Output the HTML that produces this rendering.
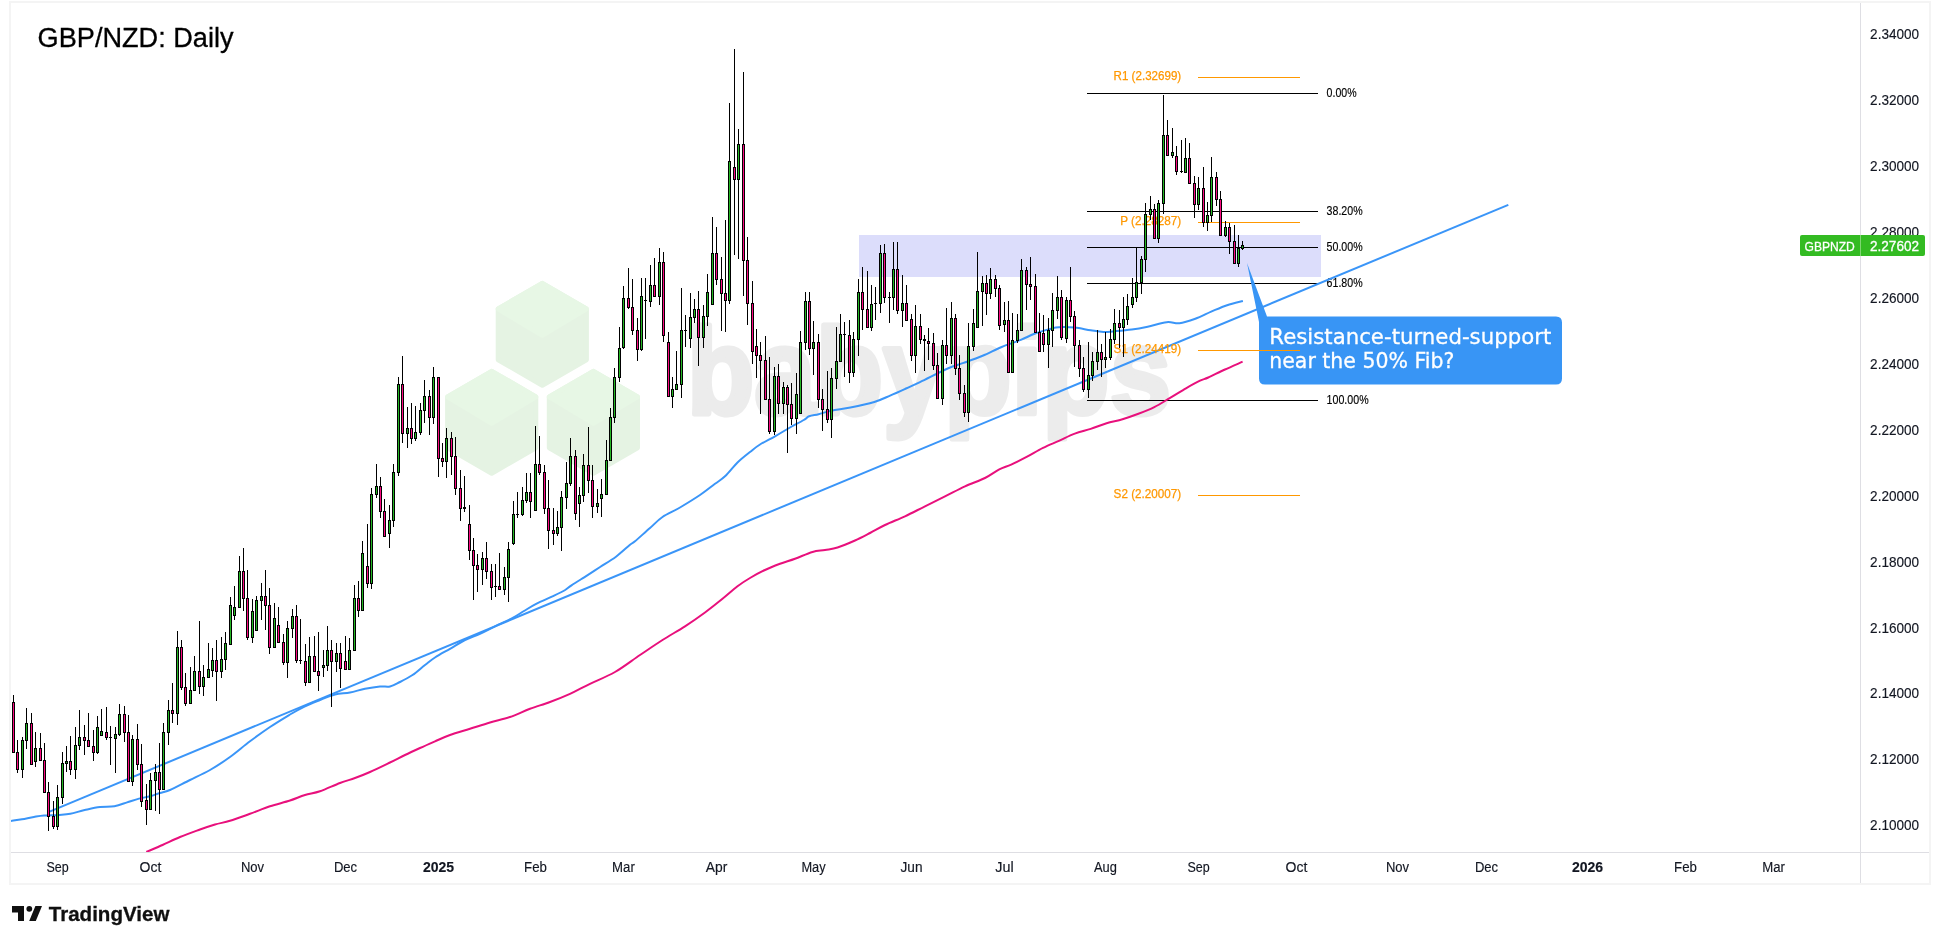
<!DOCTYPE html>
<html lang="en"><head><meta charset="utf-8"><title>GBP/NZD: Daily</title>
<style>html,body{margin:0;padding:0;background:#fff;}body{width:1940px;height:944px;overflow:hidden;}svg{display:block;}text{font-family:"Liberation Sans", sans-serif;}</style>
</head><body>
<svg width="1940" height="944" viewBox="0 0 1940 944" style="will-change:transform">
<rect x="0" y="0" width="1940" height="944" fill="#ffffff"/>
<g shape-rendering="crispEdges">
<rect x="10" y="2" width="1920" height="882" fill="none" stroke="#f4f4f4" stroke-width="2"/>
</g>
<g id="watermark">
<polygon points="542.3,283.3 586.4,308.9 586.4,359.8 542.3,385.3 498.2,359.8 498.2,308.9" fill="#e5f3e3" stroke="#e5f3e3" stroke-width="5" stroke-linejoin="round"/><polygon points="542.3,283.3 586.4,308.9 542.3,335.3 498.2,308.9" fill="#e7f7e5" stroke="#e7f7e5" stroke-width="5" stroke-linejoin="round"/>
<polygon points="491.7,371.3 535.8,396.9 535.8,447.8 491.7,473.3 447.6,447.8 447.6,396.9" fill="#e5f3e3" stroke="#e5f3e3" stroke-width="5" stroke-linejoin="round"/><polygon points="491.7,371.3 535.8,396.9 491.7,423.3 447.6,396.9" fill="#e7f7e5" stroke="#e7f7e5" stroke-width="5" stroke-linejoin="round"/>
<polygon points="593.4,371.3 637.5,396.9 637.5,447.8 593.4,473.3 549.3,447.8 549.3,396.9" fill="#e5f3e3" stroke="#e5f3e3" stroke-width="5" stroke-linejoin="round"/><polygon points="593.4,371.3 637.5,396.9 593.4,423.3 549.3,396.9" fill="#e7f7e5" stroke="#e7f7e5" stroke-width="5" stroke-linejoin="round"/>
<text x="687" y="413.5" font-size="122" font-weight="bold" fill="#ececec" stroke="#ececec" stroke-width="5" stroke-linejoin="round" textLength="484" lengthAdjust="spacingAndGlyphs">babypips</text>
</g>
<rect x="859" y="235" width="462" height="42" fill="#dcddfb" shape-rendering="crispEdges"/>
<clipPath id="cp"><rect x="11" y="3" width="1849" height="849"/></clipPath>
<g clip-path="url(#cp)">
<g shape-rendering="crispEdges" fill="#000">
<rect x="1087" y="93" width="231" height="1"/>
<rect x="1087" y="211" width="231" height="1"/>
<rect x="1087" y="247" width="231" height="1"/>
<rect x="1087" y="283" width="231" height="1"/>
<rect x="1087" y="400" width="231" height="1"/>
</g>
<text x="1326.6" y="97.0" font-size="12.3" fill="#000" stroke="#000" stroke-width="0.15" textLength="30" lengthAdjust="spacingAndGlyphs">0.00%</text>
<text x="1326.6" y="215.0" font-size="12.3" fill="#000" stroke="#000" stroke-width="0.15" textLength="36" lengthAdjust="spacingAndGlyphs">38.20%</text>
<text x="1326.6" y="251.0" font-size="12.3" fill="#000" stroke="#000" stroke-width="0.15" textLength="36" lengthAdjust="spacingAndGlyphs">50.00%</text>
<text x="1326.6" y="287.0" font-size="12.3" fill="#000" stroke="#000" stroke-width="0.15" textLength="36" lengthAdjust="spacingAndGlyphs">61.80%</text>
<text x="1326.6" y="404.0" font-size="12.3" fill="#000" stroke="#000" stroke-width="0.15" textLength="42" lengthAdjust="spacingAndGlyphs">100.00%</text>
<path d="M49.0,811.8 L1508.3,204.8" fill="none" stroke="#3a95f8" stroke-width="2" stroke-linejoin="round" stroke-linecap="butt"/>
<path d="M10.6,821.0 C12.5,820.7 18.1,820.0 22.0,819.3 C25.9,818.6 30.2,817.5 33.9,816.9 C37.6,816.3 39.9,815.8 44.1,815.5 C48.3,815.2 54.9,815.2 59.3,814.9 C63.7,814.6 66.1,814.6 70.3,813.8 C74.5,813.0 79.8,811.1 84.7,810.0 C89.7,808.9 95.0,807.6 100.0,807.0 C105.0,806.4 109.9,807.0 114.4,806.2 C118.9,805.4 123.0,803.7 127.1,802.4 C131.2,801.1 135.2,799.6 139.0,798.6 C142.8,797.6 146.5,797.2 150.0,796.3 C153.5,795.4 156.7,794.0 160.0,793.0 C163.3,792.0 165.0,792.2 170.0,790.0 C175.0,787.8 183.3,783.3 190.0,780.0 C196.7,776.7 203.3,773.8 210.0,770.0 C216.7,766.2 223.3,761.8 230.0,757.0 C236.7,752.2 243.3,746.3 250.0,741.3 C256.7,736.3 263.3,731.5 270.0,727.0 C276.7,722.5 284.2,718.0 290.0,714.5 C295.8,711.0 300.0,708.7 305.0,706.3 C310.0,703.9 315.0,702.0 320.0,700.0 C325.0,698.0 330.0,695.8 335.0,694.5 C340.0,693.2 345.0,693.5 350.0,692.5 C355.0,691.5 360.0,689.8 365.0,688.8 C370.0,687.8 375.8,686.9 380.0,686.5 C384.2,686.1 386.7,687.2 390.0,686.5 C393.3,685.8 396.2,683.9 400.0,682.0 C403.8,680.1 408.3,677.8 412.5,675.0 C416.7,672.2 421.2,667.9 425.0,665.0 C428.8,662.1 430.8,660.2 435.0,657.5 C439.2,654.8 445.0,651.7 450.0,648.8 C455.0,645.9 460.0,642.5 465.0,640.0 C470.0,637.5 475.0,636.1 480.0,633.8 C485.0,631.5 489.6,628.9 495.0,626.3 C500.4,623.6 507.9,620.4 512.7,617.9 C517.5,615.4 520.0,613.4 524.0,611.0 C528.0,608.6 531.9,606.0 536.6,603.6 C541.4,601.2 547.7,598.7 552.5,596.4 C557.3,594.1 562.0,591.9 565.2,590.0 C568.4,588.1 568.3,587.4 571.5,585.3 C574.7,583.2 579.4,580.3 584.2,577.3 C589.0,574.2 594.8,570.4 600.1,567.0 C605.4,563.6 611.0,560.4 616.0,556.7 C621.0,553.0 626.8,547.4 630.0,544.8 C633.2,542.2 631.7,544.1 635.0,541.3 C638.3,538.5 645.4,532.0 650.0,528.0 C654.6,524.0 657.5,520.4 662.5,517.0 C667.5,513.6 673.8,511.2 680.0,507.5 C686.2,503.8 694.2,498.9 700.0,495.0 C705.8,491.1 710.8,486.9 715.0,483.8 C719.2,480.7 721.2,479.9 725.0,476.3 C728.8,472.8 733.3,466.6 737.5,462.5 C741.7,458.4 746.2,455.0 750.0,452.0 C753.8,449.0 755.8,447.1 760.0,444.5 C764.2,441.9 770.0,439.1 775.0,436.3 C780.0,433.5 785.2,430.2 790.0,427.5 C794.8,424.8 800.6,421.9 803.8,420.0 C807.0,418.1 806.6,417.3 809.1,416.3 C811.6,415.3 814.9,415.1 818.6,414.2 C822.3,413.3 826.0,411.8 831.3,410.7 C836.6,409.6 843.2,408.9 850.4,407.5 C857.6,406.1 867.7,404.0 874.3,402.0 C880.9,400.0 884.8,397.9 890.1,395.6 C895.4,393.4 901.0,390.8 906.0,388.5 C911.0,386.2 913.0,385.4 920.0,382.1 C927.0,378.8 940.4,371.7 947.7,368.5 C955.0,365.3 957.8,365.0 963.6,362.9 C969.4,360.8 976.2,358.4 982.6,355.8 C989.0,353.2 995.3,349.6 1001.7,347.0 C1008.1,344.4 1015.2,342.1 1020.8,339.9 C1026.4,337.6 1030.1,335.4 1035.1,333.5 C1040.1,331.6 1047.0,329.8 1051.0,328.7 C1055.0,327.6 1054.9,327.4 1058.9,327.2 C1062.9,327.0 1069.5,327.1 1074.8,327.6 C1080.1,328.1 1085.9,329.6 1090.7,330.3 C1095.5,331.0 1099.2,331.8 1103.4,331.9 C1107.6,332.0 1111.2,331.5 1115.9,331.1 C1120.6,330.7 1126.5,330.2 1131.8,329.5 C1137.1,328.8 1141.9,327.9 1147.7,326.7 C1153.5,325.5 1161.4,322.8 1166.7,322.2 C1172.0,321.6 1174.7,323.8 1179.5,323.2 C1184.3,322.6 1190.0,320.6 1195.3,318.7 C1200.6,316.8 1205.9,313.9 1211.2,311.6 C1216.5,309.4 1221.8,307.0 1227.1,305.2 C1232.4,303.4 1240.3,301.7 1242.9,301.0" fill="none" stroke="#3a95f8" stroke-width="2" stroke-linejoin="round" stroke-linecap="butt"/>
<path d="M146.3,852.0 C149.0,850.8 156.9,847.5 162.5,845.0 C168.1,842.5 173.8,839.6 180.0,837.0 C186.2,834.4 194.2,831.6 200.0,829.5 C205.8,827.4 210.0,826.0 215.0,824.5 C220.0,823.0 224.2,822.6 230.0,820.8 C235.8,819.0 243.3,816.2 250.0,813.8 C256.7,811.4 263.3,808.5 270.0,806.3 C276.7,804.1 284.2,802.4 290.0,800.5 C295.8,798.6 300.0,796.5 305.0,795.0 C310.0,793.5 314.2,793.3 320.0,791.3 C325.8,789.3 334.2,785.2 340.0,783.0 C345.8,780.8 350.0,779.8 355.0,778.0 C360.0,776.2 364.2,774.6 370.0,772.0 C375.8,769.4 384.2,765.3 390.0,762.5 C395.8,759.7 400.0,757.4 405.0,755.0 C410.0,752.6 415.0,750.3 420.0,748.0 C425.0,745.7 430.0,743.5 435.0,741.3 C440.0,739.1 444.2,737.1 450.0,735.0 C455.8,732.9 463.3,730.9 470.0,728.8 C476.7,726.7 483.3,724.5 490.0,722.5 C496.7,720.5 503.3,719.3 510.0,717.0 C516.7,714.7 523.3,711.3 530.0,708.8 C536.7,706.3 543.3,704.5 550.0,702.0 C556.7,699.5 563.3,696.8 570.0,693.8 C576.7,690.8 582.5,687.4 590.0,683.8 C597.5,680.2 606.7,676.8 615.0,672.0 C623.3,667.2 632.1,660.3 640.0,655.0 C647.9,649.7 655.0,644.8 662.5,640.0 C670.0,635.2 677.9,630.9 685.0,626.3 C692.1,621.7 698.8,617.1 705.0,612.5 C711.2,607.9 717.1,603.2 722.5,598.8 C727.9,594.4 732.9,589.8 737.5,586.3 C742.1,582.8 745.4,580.7 750.0,578.0 C754.6,575.3 760.0,572.4 765.0,570.0 C770.0,567.6 775.0,565.7 780.0,563.8 C785.0,561.9 789.6,560.8 795.0,558.8 C800.4,556.8 807.5,553.5 812.5,552.0 C817.5,550.5 820.8,550.8 825.0,550.0 C829.2,549.2 832.5,549.1 837.5,547.5 C842.5,545.9 849.6,542.9 855.0,540.5 C860.4,538.1 865.0,535.6 870.0,533.0 C875.0,530.4 879.2,527.8 885.0,525.0 C890.8,522.2 898.3,519.4 905.0,516.3 C911.7,513.2 918.3,509.6 925.0,506.3 C931.7,503.0 938.3,499.6 945.0,496.3 C951.7,493.0 958.3,489.4 965.0,486.3 C971.7,483.2 979.3,480.8 985.0,478.0 C990.7,475.2 994.9,471.6 999.3,469.4 C1003.7,467.2 1006.6,466.7 1011.2,464.6 C1015.8,462.5 1021.8,459.5 1027.1,456.7 C1032.4,453.9 1037.7,450.5 1043.0,447.9 C1048.3,445.2 1053.6,443.2 1058.9,440.8 C1064.2,438.4 1069.5,435.6 1074.8,433.6 C1080.1,431.6 1085.4,430.6 1090.7,428.9 C1096.0,427.2 1101.3,424.9 1106.6,423.3 C1111.9,421.7 1117.2,420.9 1122.5,419.3 C1127.8,417.7 1133.1,415.8 1138.4,413.8 C1143.7,411.8 1149.0,409.8 1154.3,407.1 C1159.6,404.5 1164.8,401.0 1170.1,397.9 C1175.4,394.8 1181.0,391.2 1186.0,388.3 C1191.0,385.4 1196.3,382.5 1200.0,380.7 C1203.7,378.9 1204.1,379.4 1208.3,377.5 C1212.5,375.6 1219.3,372.1 1225.0,369.5 C1230.7,366.9 1239.7,363.0 1242.6,361.7" fill="none" stroke="#e8107c" stroke-width="2" stroke-linejoin="round" stroke-linecap="butt"/>
<path d="M1247,263 L1267,316.5 L1556,316.5 Q1562,316.5 1562,322.5 L1562,378.5 Q1562,384.5 1556,384.5 L1265,384.5 Q1259,384.5 1259,378.5 L1259,322 Z" fill="#3895f5"/>
<text stroke="#fff" stroke-width="0.3" x="1269.3" y="344.3" font-size="22" fill="#fff" textLength="282" lengthAdjust="spacingAndGlyphs" style='font-family:"DejaVu Sans", "Liberation Sans", sans-serif'>Resistance-turned-support</text>
<text stroke="#fff" stroke-width="0.3" x="1269.3" y="368.3" font-size="22" fill="#fff" textLength="185" lengthAdjust="spacingAndGlyphs" style='font-family:"DejaVu Sans", "Liberation Sans", sans-serif'>near the 50% Fib?</text>
<g shape-rendering="crispEdges" fill="#ff9800">
<rect x="1198" y="77" width="102" height="1"/>
<rect x="1198" y="222" width="102" height="1"/>
<rect x="1198" y="350" width="102" height="1"/>
<rect x="1198" y="495" width="102" height="1"/>
</g>
<text x="1113.6" y="80.0" font-size="12.4" fill="#ff9800" stroke="#ff9800" stroke-width="0.25" textLength="67.6" lengthAdjust="spacingAndGlyphs">R1 (2.32699)</text>
<text x="1120.2" y="225.0" font-size="12.4" fill="#ff9800" stroke="#ff9800" stroke-width="0.25" textLength="61" lengthAdjust="spacingAndGlyphs">P (2.28287)</text>
<text x="1113.6" y="353.0" font-size="12.4" fill="#ff9800" stroke="#ff9800" stroke-width="0.25" textLength="67.6" lengthAdjust="spacingAndGlyphs">S1 (2.24419)</text>
<text x="1113.6" y="498.0" font-size="12.4" fill="#ff9800" stroke="#ff9800" stroke-width="0.25" textLength="67.6" lengthAdjust="spacingAndGlyphs">S2 (2.20007)</text>
<g shape-rendering="crispEdges">
<rect x="13" y="695" width="1" height="58" fill="#000"/>
<rect x="12" y="702" width="3" height="51" fill="#000"/>
<rect x="13" y="703" width="1" height="49" fill="#fb0a82"/>
<rect x="17" y="740" width="1" height="33" fill="#000"/>
<rect x="16" y="752" width="3" height="18" fill="#000"/>
<rect x="17" y="753" width="1" height="16" fill="#fb0a82"/>
<rect x="22" y="737" width="1" height="41" fill="#000"/>
<rect x="21" y="740" width="3" height="30" fill="#000"/>
<rect x="22" y="741" width="1" height="28" fill="#24b724"/>
<rect x="26" y="708" width="1" height="41" fill="#000"/>
<rect x="25" y="723" width="3" height="18" fill="#000"/>
<rect x="26" y="724" width="1" height="16" fill="#24b724"/>
<rect x="31" y="713" width="1" height="52" fill="#000"/>
<rect x="30" y="723" width="3" height="42" fill="#000"/>
<rect x="31" y="724" width="1" height="40" fill="#fb0a82"/>
<rect x="35" y="732" width="1" height="35" fill="#000"/>
<rect x="34" y="748" width="3" height="14" fill="#000"/>
<rect x="35" y="749" width="1" height="12" fill="#24b724"/>
<rect x="40" y="733" width="1" height="28" fill="#000"/>
<rect x="39" y="748" width="3" height="13" fill="#000"/>
<rect x="40" y="749" width="1" height="11" fill="#fb0a82"/>
<rect x="44" y="743" width="1" height="50" fill="#000"/>
<rect x="43" y="760" width="3" height="33" fill="#000"/>
<rect x="44" y="761" width="1" height="31" fill="#fb0a82"/>
<rect x="48" y="782" width="1" height="49" fill="#000"/>
<rect x="47" y="792" width="3" height="25" fill="#000"/>
<rect x="48" y="793" width="1" height="23" fill="#fb0a82"/>
<rect x="53" y="801" width="1" height="28" fill="#000"/>
<rect x="52" y="816" width="3" height="11" fill="#000"/>
<rect x="53" y="817" width="1" height="9" fill="#fb0a82"/>
<rect x="57" y="785" width="1" height="45" fill="#000"/>
<rect x="56" y="797" width="3" height="30" fill="#000"/>
<rect x="57" y="798" width="1" height="28" fill="#24b724"/>
<rect x="62" y="752" width="1" height="52" fill="#000"/>
<rect x="61" y="763" width="3" height="35" fill="#000"/>
<rect x="62" y="764" width="1" height="33" fill="#24b724"/>
<rect x="66" y="746" width="1" height="26" fill="#000"/>
<rect x="65" y="761" width="3" height="3" fill="#000"/>
<rect x="66" y="762" width="1" height="1" fill="#24b724"/>
<rect x="70" y="736" width="1" height="39" fill="#000"/>
<rect x="69" y="761" width="3" height="9" fill="#000"/>
<rect x="70" y="762" width="1" height="7" fill="#fb0a82"/>
<rect x="75" y="727" width="1" height="52" fill="#000"/>
<rect x="74" y="745" width="3" height="25" fill="#000"/>
<rect x="75" y="746" width="1" height="23" fill="#24b724"/>
<rect x="79" y="710" width="1" height="40" fill="#000"/>
<rect x="78" y="737" width="3" height="9" fill="#000"/>
<rect x="79" y="738" width="1" height="7" fill="#24b724"/>
<rect x="84" y="725" width="1" height="30" fill="#000"/>
<rect x="83" y="737" width="3" height="4" fill="#000"/>
<rect x="84" y="738" width="1" height="2" fill="#fb0a82"/>
<rect x="88" y="713" width="1" height="34" fill="#000"/>
<rect x="87" y="740" width="3" height="7" fill="#000"/>
<rect x="88" y="741" width="1" height="5" fill="#fb0a82"/>
<rect x="93" y="730" width="1" height="31" fill="#000"/>
<rect x="92" y="746" width="3" height="7" fill="#000"/>
<rect x="93" y="747" width="1" height="5" fill="#fb0a82"/>
<rect x="97" y="716" width="1" height="38" fill="#000"/>
<rect x="96" y="727" width="3" height="26" fill="#000"/>
<rect x="97" y="728" width="1" height="24" fill="#24b724"/>
<rect x="101" y="709" width="1" height="27" fill="#000"/>
<rect x="100" y="731" width="3" height="5" fill="#000"/>
<rect x="101" y="732" width="1" height="3" fill="#24b724"/>
<rect x="106" y="707" width="1" height="33" fill="#000"/>
<rect x="105" y="732" width="3" height="6" fill="#000"/>
<rect x="106" y="733" width="1" height="4" fill="#fb0a82"/>
<rect x="110" y="726" width="1" height="39" fill="#000"/>
<rect x="109" y="737" width="3" height="1" fill="#000"/>
<rect x="115" y="727" width="1" height="46" fill="#000"/>
<rect x="114" y="734" width="3" height="5" fill="#000"/>
<rect x="115" y="735" width="1" height="3" fill="#24b724"/>
<rect x="119" y="704" width="1" height="32" fill="#000"/>
<rect x="118" y="714" width="3" height="21" fill="#000"/>
<rect x="119" y="715" width="1" height="19" fill="#24b724"/>
<rect x="124" y="706" width="1" height="36" fill="#000"/>
<rect x="123" y="714" width="3" height="19" fill="#000"/>
<rect x="124" y="715" width="1" height="17" fill="#fb0a82"/>
<rect x="128" y="715" width="1" height="67" fill="#000"/>
<rect x="127" y="732" width="3" height="50" fill="#000"/>
<rect x="128" y="733" width="1" height="48" fill="#fb0a82"/>
<rect x="132" y="735" width="1" height="51" fill="#000"/>
<rect x="131" y="739" width="3" height="43" fill="#000"/>
<rect x="132" y="740" width="1" height="41" fill="#24b724"/>
<rect x="137" y="724" width="1" height="46" fill="#000"/>
<rect x="136" y="739" width="3" height="26" fill="#000"/>
<rect x="137" y="740" width="1" height="24" fill="#fb0a82"/>
<rect x="141" y="744" width="1" height="63" fill="#000"/>
<rect x="140" y="764" width="3" height="38" fill="#000"/>
<rect x="141" y="765" width="1" height="36" fill="#fb0a82"/>
<rect x="146" y="784" width="1" height="41" fill="#000"/>
<rect x="145" y="800" width="3" height="10" fill="#000"/>
<rect x="146" y="801" width="1" height="8" fill="#fb0a82"/>
<rect x="150" y="773" width="1" height="37" fill="#000"/>
<rect x="149" y="780" width="3" height="30" fill="#000"/>
<rect x="150" y="781" width="1" height="28" fill="#24b724"/>
<rect x="155" y="764" width="1" height="47" fill="#000"/>
<rect x="154" y="772" width="3" height="9" fill="#000"/>
<rect x="155" y="773" width="1" height="7" fill="#24b724"/>
<rect x="159" y="743" width="1" height="71" fill="#000"/>
<rect x="158" y="772" width="3" height="18" fill="#000"/>
<rect x="159" y="773" width="1" height="16" fill="#fb0a82"/>
<rect x="163" y="723" width="1" height="67" fill="#000"/>
<rect x="162" y="732" width="3" height="58" fill="#000"/>
<rect x="163" y="733" width="1" height="56" fill="#24b724"/>
<rect x="168" y="700" width="1" height="45" fill="#000"/>
<rect x="167" y="710" width="3" height="23" fill="#000"/>
<rect x="168" y="711" width="1" height="21" fill="#24b724"/>
<rect x="172" y="683" width="1" height="40" fill="#000"/>
<rect x="171" y="710" width="3" height="4" fill="#000"/>
<rect x="172" y="711" width="1" height="2" fill="#fb0a82"/>
<rect x="177" y="631" width="1" height="94" fill="#000"/>
<rect x="176" y="647" width="3" height="67" fill="#000"/>
<rect x="177" y="648" width="1" height="65" fill="#24b724"/>
<rect x="181" y="640" width="1" height="50" fill="#000"/>
<rect x="180" y="647" width="3" height="41" fill="#000"/>
<rect x="181" y="648" width="1" height="39" fill="#fb0a82"/>
<rect x="185" y="673" width="1" height="33" fill="#000"/>
<rect x="184" y="687" width="3" height="17" fill="#000"/>
<rect x="185" y="688" width="1" height="15" fill="#fb0a82"/>
<rect x="190" y="667" width="1" height="37" fill="#000"/>
<rect x="189" y="690" width="3" height="14" fill="#000"/>
<rect x="190" y="691" width="1" height="12" fill="#24b724"/>
<rect x="194" y="656" width="1" height="35" fill="#000"/>
<rect x="193" y="671" width="3" height="20" fill="#000"/>
<rect x="194" y="672" width="1" height="18" fill="#24b724"/>
<rect x="199" y="621" width="1" height="73" fill="#000"/>
<rect x="198" y="671" width="3" height="16" fill="#000"/>
<rect x="199" y="672" width="1" height="14" fill="#fb0a82"/>
<rect x="203" y="665" width="1" height="31" fill="#000"/>
<rect x="202" y="677" width="3" height="10" fill="#000"/>
<rect x="203" y="678" width="1" height="8" fill="#24b724"/>
<rect x="208" y="643" width="1" height="35" fill="#000"/>
<rect x="207" y="669" width="3" height="9" fill="#000"/>
<rect x="208" y="670" width="1" height="7" fill="#24b724"/>
<rect x="212" y="648" width="1" height="29" fill="#000"/>
<rect x="211" y="660" width="3" height="11" fill="#000"/>
<rect x="212" y="661" width="1" height="9" fill="#24b724"/>
<rect x="216" y="640" width="1" height="61" fill="#000"/>
<rect x="215" y="660" width="3" height="12" fill="#000"/>
<rect x="216" y="661" width="1" height="10" fill="#fb0a82"/>
<rect x="221" y="637" width="1" height="41" fill="#000"/>
<rect x="220" y="659" width="3" height="13" fill="#000"/>
<rect x="221" y="660" width="1" height="11" fill="#24b724"/>
<rect x="225" y="632" width="1" height="38" fill="#000"/>
<rect x="224" y="643" width="3" height="17" fill="#000"/>
<rect x="225" y="644" width="1" height="15" fill="#24b724"/>
<rect x="230" y="597" width="1" height="48" fill="#000"/>
<rect x="229" y="605" width="3" height="40" fill="#000"/>
<rect x="230" y="606" width="1" height="38" fill="#24b724"/>
<rect x="234" y="586" width="1" height="34" fill="#000"/>
<rect x="233" y="607" width="3" height="9" fill="#000"/>
<rect x="234" y="608" width="1" height="7" fill="#24b724"/>
<rect x="239" y="556" width="1" height="52" fill="#000"/>
<rect x="238" y="571" width="3" height="37" fill="#000"/>
<rect x="239" y="572" width="1" height="35" fill="#24b724"/>
<rect x="243" y="548" width="1" height="63" fill="#000"/>
<rect x="242" y="571" width="3" height="28" fill="#000"/>
<rect x="243" y="572" width="1" height="26" fill="#fb0a82"/>
<rect x="247" y="570" width="1" height="70" fill="#000"/>
<rect x="246" y="598" width="3" height="40" fill="#000"/>
<rect x="247" y="599" width="1" height="38" fill="#fb0a82"/>
<rect x="252" y="599" width="1" height="44" fill="#000"/>
<rect x="251" y="611" width="3" height="27" fill="#000"/>
<rect x="252" y="612" width="1" height="25" fill="#24b724"/>
<rect x="256" y="596" width="1" height="35" fill="#000"/>
<rect x="255" y="600" width="3" height="31" fill="#000"/>
<rect x="256" y="601" width="1" height="29" fill="#24b724"/>
<rect x="261" y="583" width="1" height="37" fill="#000"/>
<rect x="260" y="596" width="3" height="5" fill="#000"/>
<rect x="261" y="597" width="1" height="3" fill="#24b724"/>
<rect x="265" y="570" width="1" height="60" fill="#000"/>
<rect x="264" y="596" width="3" height="10" fill="#000"/>
<rect x="265" y="597" width="1" height="8" fill="#fb0a82"/>
<rect x="269" y="588" width="1" height="66" fill="#000"/>
<rect x="268" y="605" width="3" height="43" fill="#000"/>
<rect x="269" y="606" width="1" height="41" fill="#fb0a82"/>
<rect x="274" y="603" width="1" height="45" fill="#000"/>
<rect x="273" y="618" width="3" height="30" fill="#000"/>
<rect x="274" y="619" width="1" height="28" fill="#24b724"/>
<rect x="278" y="607" width="1" height="36" fill="#000"/>
<rect x="277" y="625" width="3" height="18" fill="#000"/>
<rect x="278" y="626" width="1" height="16" fill="#fb0a82"/>
<rect x="283" y="634" width="1" height="31" fill="#000"/>
<rect x="282" y="642" width="3" height="21" fill="#000"/>
<rect x="283" y="643" width="1" height="19" fill="#fb0a82"/>
<rect x="287" y="621" width="1" height="57" fill="#000"/>
<rect x="286" y="628" width="3" height="35" fill="#000"/>
<rect x="287" y="629" width="1" height="33" fill="#24b724"/>
<rect x="292" y="609" width="1" height="29" fill="#000"/>
<rect x="291" y="616" width="3" height="13" fill="#000"/>
<rect x="292" y="617" width="1" height="11" fill="#24b724"/>
<rect x="296" y="605" width="1" height="58" fill="#000"/>
<rect x="295" y="616" width="3" height="45" fill="#000"/>
<rect x="296" y="617" width="1" height="43" fill="#fb0a82"/>
<rect x="300" y="619" width="1" height="45" fill="#000"/>
<rect x="299" y="660" width="3" height="1" fill="#000"/>
<rect x="305" y="644" width="1" height="42" fill="#000"/>
<rect x="304" y="661" width="3" height="22" fill="#000"/>
<rect x="305" y="662" width="1" height="20" fill="#fb0a82"/>
<rect x="309" y="637" width="1" height="46" fill="#000"/>
<rect x="308" y="656" width="3" height="27" fill="#000"/>
<rect x="309" y="657" width="1" height="25" fill="#24b724"/>
<rect x="314" y="636" width="1" height="36" fill="#000"/>
<rect x="313" y="656" width="3" height="16" fill="#000"/>
<rect x="314" y="657" width="1" height="14" fill="#fb0a82"/>
<rect x="318" y="632" width="1" height="59" fill="#000"/>
<rect x="317" y="671" width="3" height="5" fill="#000"/>
<rect x="318" y="672" width="1" height="3" fill="#fb0a82"/>
<rect x="323" y="650" width="1" height="27" fill="#000"/>
<rect x="322" y="665" width="3" height="3" fill="#000"/>
<rect x="323" y="666" width="1" height="1" fill="#24b724"/>
<rect x="327" y="626" width="1" height="45" fill="#000"/>
<rect x="326" y="650" width="3" height="16" fill="#000"/>
<rect x="327" y="651" width="1" height="14" fill="#24b724"/>
<rect x="331" y="640" width="1" height="67" fill="#000"/>
<rect x="330" y="650" width="3" height="12" fill="#000"/>
<rect x="331" y="651" width="1" height="10" fill="#fb0a82"/>
<rect x="336" y="643" width="1" height="29" fill="#000"/>
<rect x="335" y="653" width="3" height="9" fill="#000"/>
<rect x="336" y="654" width="1" height="7" fill="#24b724"/>
<rect x="340" y="643" width="1" height="45" fill="#000"/>
<rect x="339" y="653" width="3" height="16" fill="#000"/>
<rect x="340" y="654" width="1" height="14" fill="#fb0a82"/>
<rect x="345" y="636" width="1" height="34" fill="#000"/>
<rect x="344" y="661" width="3" height="9" fill="#000"/>
<rect x="345" y="662" width="1" height="7" fill="#fb0a82"/>
<rect x="349" y="638" width="1" height="32" fill="#000"/>
<rect x="348" y="650" width="3" height="20" fill="#000"/>
<rect x="349" y="651" width="1" height="18" fill="#24b724"/>
<rect x="354" y="585" width="1" height="66" fill="#000"/>
<rect x="353" y="598" width="3" height="53" fill="#000"/>
<rect x="354" y="599" width="1" height="51" fill="#24b724"/>
<rect x="358" y="581" width="1" height="36" fill="#000"/>
<rect x="357" y="598" width="3" height="13" fill="#000"/>
<rect x="358" y="599" width="1" height="11" fill="#fb0a82"/>
<rect x="362" y="541" width="1" height="70" fill="#000"/>
<rect x="361" y="553" width="3" height="58" fill="#000"/>
<rect x="362" y="554" width="1" height="56" fill="#24b724"/>
<rect x="367" y="524" width="1" height="64" fill="#000"/>
<rect x="366" y="566" width="3" height="18" fill="#000"/>
<rect x="367" y="567" width="1" height="16" fill="#fb0a82"/>
<rect x="371" y="488" width="1" height="101" fill="#000"/>
<rect x="370" y="494" width="3" height="90" fill="#000"/>
<rect x="371" y="495" width="1" height="88" fill="#24b724"/>
<rect x="376" y="464" width="1" height="34" fill="#000"/>
<rect x="375" y="486" width="3" height="9" fill="#000"/>
<rect x="376" y="487" width="1" height="7" fill="#24b724"/>
<rect x="380" y="477" width="1" height="41" fill="#000"/>
<rect x="379" y="486" width="3" height="26" fill="#000"/>
<rect x="380" y="487" width="1" height="24" fill="#fb0a82"/>
<rect x="384" y="499" width="1" height="38" fill="#000"/>
<rect x="383" y="511" width="3" height="26" fill="#000"/>
<rect x="384" y="512" width="1" height="24" fill="#fb0a82"/>
<rect x="389" y="505" width="1" height="43" fill="#000"/>
<rect x="388" y="520" width="3" height="14" fill="#000"/>
<rect x="389" y="521" width="1" height="12" fill="#24b724"/>
<rect x="393" y="464" width="1" height="63" fill="#000"/>
<rect x="392" y="472" width="3" height="49" fill="#000"/>
<rect x="393" y="473" width="1" height="47" fill="#24b724"/>
<rect x="398" y="377" width="1" height="99" fill="#000"/>
<rect x="397" y="384" width="3" height="89" fill="#000"/>
<rect x="398" y="385" width="1" height="87" fill="#24b724"/>
<rect x="402" y="356" width="1" height="87" fill="#000"/>
<rect x="401" y="384" width="3" height="50" fill="#000"/>
<rect x="402" y="385" width="1" height="48" fill="#fb0a82"/>
<rect x="407" y="407" width="1" height="41" fill="#000"/>
<rect x="406" y="428" width="3" height="6" fill="#000"/>
<rect x="407" y="429" width="1" height="4" fill="#24b724"/>
<rect x="411" y="403" width="1" height="41" fill="#000"/>
<rect x="410" y="428" width="3" height="11" fill="#000"/>
<rect x="411" y="429" width="1" height="9" fill="#fb0a82"/>
<rect x="415" y="406" width="1" height="35" fill="#000"/>
<rect x="414" y="432" width="3" height="7" fill="#000"/>
<rect x="415" y="433" width="1" height="5" fill="#24b724"/>
<rect x="420" y="403" width="1" height="32" fill="#000"/>
<rect x="419" y="410" width="3" height="23" fill="#000"/>
<rect x="420" y="411" width="1" height="21" fill="#24b724"/>
<rect x="424" y="380" width="1" height="43" fill="#000"/>
<rect x="423" y="396" width="3" height="15" fill="#000"/>
<rect x="424" y="397" width="1" height="13" fill="#24b724"/>
<rect x="429" y="390" width="1" height="45" fill="#000"/>
<rect x="428" y="396" width="3" height="22" fill="#000"/>
<rect x="429" y="397" width="1" height="20" fill="#fb0a82"/>
<rect x="433" y="367" width="1" height="57" fill="#000"/>
<rect x="432" y="377" width="3" height="41" fill="#000"/>
<rect x="433" y="378" width="1" height="39" fill="#24b724"/>
<rect x="438" y="377" width="1" height="100" fill="#000"/>
<rect x="437" y="377" width="3" height="82" fill="#000"/>
<rect x="438" y="378" width="1" height="80" fill="#fb0a82"/>
<rect x="442" y="443" width="1" height="24" fill="#000"/>
<rect x="441" y="458" width="3" height="4" fill="#000"/>
<rect x="442" y="459" width="1" height="2" fill="#fb0a82"/>
<rect x="446" y="428" width="1" height="50" fill="#000"/>
<rect x="445" y="438" width="3" height="24" fill="#000"/>
<rect x="446" y="439" width="1" height="22" fill="#24b724"/>
<rect x="451" y="432" width="1" height="43" fill="#000"/>
<rect x="450" y="438" width="3" height="19" fill="#000"/>
<rect x="451" y="439" width="1" height="17" fill="#fb0a82"/>
<rect x="455" y="437" width="1" height="58" fill="#000"/>
<rect x="454" y="456" width="3" height="33" fill="#000"/>
<rect x="455" y="457" width="1" height="31" fill="#fb0a82"/>
<rect x="460" y="470" width="1" height="51" fill="#000"/>
<rect x="459" y="488" width="3" height="21" fill="#000"/>
<rect x="460" y="489" width="1" height="19" fill="#fb0a82"/>
<rect x="464" y="476" width="1" height="36" fill="#000"/>
<rect x="463" y="507" width="3" height="2" fill="#000"/>
<rect x="469" y="505" width="1" height="55" fill="#000"/>
<rect x="468" y="524" width="3" height="27" fill="#000"/>
<rect x="469" y="525" width="1" height="25" fill="#fb0a82"/>
<rect x="473" y="538" width="1" height="62" fill="#000"/>
<rect x="472" y="550" width="3" height="16" fill="#000"/>
<rect x="473" y="551" width="1" height="14" fill="#fb0a82"/>
<rect x="477" y="554" width="1" height="38" fill="#000"/>
<rect x="476" y="565" width="3" height="5" fill="#000"/>
<rect x="477" y="566" width="1" height="3" fill="#fb0a82"/>
<rect x="482" y="552" width="1" height="33" fill="#000"/>
<rect x="481" y="558" width="3" height="12" fill="#000"/>
<rect x="482" y="559" width="1" height="10" fill="#24b724"/>
<rect x="486" y="542" width="1" height="37" fill="#000"/>
<rect x="485" y="558" width="3" height="14" fill="#000"/>
<rect x="486" y="559" width="1" height="12" fill="#fb0a82"/>
<rect x="491" y="564" width="1" height="36" fill="#000"/>
<rect x="490" y="571" width="3" height="17" fill="#000"/>
<rect x="491" y="572" width="1" height="15" fill="#fb0a82"/>
<rect x="495" y="564" width="1" height="33" fill="#000"/>
<rect x="494" y="586" width="3" height="1" fill="#000"/>
<rect x="499" y="553" width="1" height="37" fill="#000"/>
<rect x="498" y="586" width="3" height="4" fill="#000"/>
<rect x="499" y="587" width="1" height="2" fill="#fb0a82"/>
<rect x="504" y="567" width="1" height="28" fill="#000"/>
<rect x="503" y="577" width="3" height="13" fill="#000"/>
<rect x="504" y="578" width="1" height="11" fill="#24b724"/>
<rect x="508" y="542" width="1" height="60" fill="#000"/>
<rect x="507" y="549" width="3" height="29" fill="#000"/>
<rect x="508" y="550" width="1" height="27" fill="#24b724"/>
<rect x="513" y="501" width="1" height="44" fill="#000"/>
<rect x="512" y="514" width="3" height="30" fill="#000"/>
<rect x="513" y="515" width="1" height="28" fill="#24b724"/>
<rect x="517" y="492" width="1" height="26" fill="#000"/>
<rect x="516" y="514" width="3" height="1" fill="#000"/>
<rect x="522" y="487" width="1" height="29" fill="#000"/>
<rect x="521" y="500" width="3" height="15" fill="#000"/>
<rect x="522" y="501" width="1" height="13" fill="#24b724"/>
<rect x="526" y="473" width="1" height="30" fill="#000"/>
<rect x="525" y="492" width="3" height="9" fill="#000"/>
<rect x="526" y="493" width="1" height="7" fill="#24b724"/>
<rect x="530" y="473" width="1" height="45" fill="#000"/>
<rect x="529" y="492" width="3" height="10" fill="#000"/>
<rect x="530" y="493" width="1" height="8" fill="#fb0a82"/>
<rect x="535" y="426" width="1" height="85" fill="#000"/>
<rect x="534" y="464" width="3" height="47" fill="#000"/>
<rect x="535" y="465" width="1" height="45" fill="#24b724"/>
<rect x="539" y="436" width="1" height="39" fill="#000"/>
<rect x="538" y="464" width="3" height="9" fill="#000"/>
<rect x="539" y="465" width="1" height="7" fill="#fb0a82"/>
<rect x="544" y="465" width="1" height="49" fill="#000"/>
<rect x="543" y="472" width="3" height="37" fill="#000"/>
<rect x="544" y="473" width="1" height="35" fill="#fb0a82"/>
<rect x="548" y="480" width="1" height="69" fill="#000"/>
<rect x="547" y="508" width="3" height="23" fill="#000"/>
<rect x="548" y="509" width="1" height="21" fill="#fb0a82"/>
<rect x="553" y="508" width="1" height="37" fill="#000"/>
<rect x="552" y="530" width="3" height="4" fill="#000"/>
<rect x="553" y="531" width="1" height="2" fill="#fb0a82"/>
<rect x="557" y="511" width="1" height="25" fill="#000"/>
<rect x="556" y="527" width="3" height="7" fill="#000"/>
<rect x="557" y="528" width="1" height="5" fill="#24b724"/>
<rect x="561" y="491" width="1" height="60" fill="#000"/>
<rect x="560" y="497" width="3" height="31" fill="#000"/>
<rect x="561" y="498" width="1" height="29" fill="#24b724"/>
<rect x="566" y="462" width="1" height="47" fill="#000"/>
<rect x="565" y="483" width="3" height="15" fill="#000"/>
<rect x="566" y="484" width="1" height="13" fill="#24b724"/>
<rect x="570" y="438" width="1" height="48" fill="#000"/>
<rect x="569" y="456" width="3" height="28" fill="#000"/>
<rect x="570" y="457" width="1" height="26" fill="#24b724"/>
<rect x="575" y="450" width="1" height="70" fill="#000"/>
<rect x="574" y="456" width="3" height="58" fill="#000"/>
<rect x="575" y="457" width="1" height="56" fill="#fb0a82"/>
<rect x="579" y="487" width="1" height="40" fill="#000"/>
<rect x="578" y="495" width="3" height="9" fill="#000"/>
<rect x="579" y="496" width="1" height="7" fill="#24b724"/>
<rect x="583" y="454" width="1" height="48" fill="#000"/>
<rect x="582" y="465" width="3" height="31" fill="#000"/>
<rect x="583" y="466" width="1" height="29" fill="#24b724"/>
<rect x="588" y="427" width="1" height="66" fill="#000"/>
<rect x="587" y="465" width="3" height="16" fill="#000"/>
<rect x="588" y="466" width="1" height="14" fill="#fb0a82"/>
<rect x="592" y="465" width="1" height="53" fill="#000"/>
<rect x="591" y="480" width="3" height="27" fill="#000"/>
<rect x="592" y="481" width="1" height="25" fill="#fb0a82"/>
<rect x="597" y="489" width="1" height="24" fill="#000"/>
<rect x="596" y="503" width="3" height="4" fill="#000"/>
<rect x="597" y="504" width="1" height="2" fill="#24b724"/>
<rect x="601" y="479" width="1" height="38" fill="#000"/>
<rect x="600" y="494" width="3" height="5" fill="#000"/>
<rect x="601" y="495" width="1" height="3" fill="#24b724"/>
<rect x="606" y="440" width="1" height="55" fill="#000"/>
<rect x="605" y="460" width="3" height="35" fill="#000"/>
<rect x="606" y="461" width="1" height="33" fill="#24b724"/>
<rect x="610" y="408" width="1" height="53" fill="#000"/>
<rect x="609" y="417" width="3" height="44" fill="#000"/>
<rect x="610" y="418" width="1" height="42" fill="#24b724"/>
<rect x="614" y="368" width="1" height="55" fill="#000"/>
<rect x="613" y="377" width="3" height="41" fill="#000"/>
<rect x="614" y="378" width="1" height="39" fill="#24b724"/>
<rect x="619" y="327" width="1" height="55" fill="#000"/>
<rect x="618" y="348" width="3" height="30" fill="#000"/>
<rect x="619" y="349" width="1" height="28" fill="#24b724"/>
<rect x="623" y="286" width="1" height="63" fill="#000"/>
<rect x="622" y="298" width="3" height="50" fill="#000"/>
<rect x="623" y="299" width="1" height="48" fill="#24b724"/>
<rect x="628" y="268" width="1" height="41" fill="#000"/>
<rect x="627" y="298" width="3" height="10" fill="#000"/>
<rect x="628" y="299" width="1" height="8" fill="#fb0a82"/>
<rect x="632" y="279" width="1" height="56" fill="#000"/>
<rect x="631" y="307" width="3" height="24" fill="#000"/>
<rect x="632" y="308" width="1" height="22" fill="#fb0a82"/>
<rect x="637" y="318" width="1" height="43" fill="#000"/>
<rect x="636" y="330" width="3" height="20" fill="#000"/>
<rect x="637" y="331" width="1" height="18" fill="#fb0a82"/>
<rect x="641" y="278" width="1" height="73" fill="#000"/>
<rect x="640" y="296" width="3" height="54" fill="#000"/>
<rect x="641" y="297" width="1" height="52" fill="#24b724"/>
<rect x="645" y="278" width="1" height="61" fill="#000"/>
<rect x="644" y="300" width="3" height="1" fill="#000"/>
<rect x="650" y="265" width="1" height="42" fill="#000"/>
<rect x="649" y="285" width="3" height="17" fill="#000"/>
<rect x="650" y="286" width="1" height="15" fill="#24b724"/>
<rect x="654" y="258" width="1" height="39" fill="#000"/>
<rect x="653" y="285" width="3" height="12" fill="#000"/>
<rect x="654" y="286" width="1" height="10" fill="#fb0a82"/>
<rect x="659" y="248" width="1" height="57" fill="#000"/>
<rect x="658" y="262" width="3" height="35" fill="#000"/>
<rect x="659" y="263" width="1" height="33" fill="#24b724"/>
<rect x="663" y="252" width="1" height="90" fill="#000"/>
<rect x="662" y="262" width="3" height="74" fill="#000"/>
<rect x="663" y="263" width="1" height="72" fill="#fb0a82"/>
<rect x="668" y="332" width="1" height="65" fill="#000"/>
<rect x="667" y="342" width="3" height="55" fill="#000"/>
<rect x="668" y="343" width="1" height="53" fill="#fb0a82"/>
<rect x="672" y="377" width="1" height="31" fill="#000"/>
<rect x="671" y="389" width="3" height="8" fill="#000"/>
<rect x="672" y="390" width="1" height="6" fill="#24b724"/>
<rect x="676" y="351" width="1" height="39" fill="#000"/>
<rect x="675" y="384" width="3" height="6" fill="#000"/>
<rect x="676" y="385" width="1" height="4" fill="#24b724"/>
<rect x="681" y="288" width="1" height="110" fill="#000"/>
<rect x="680" y="330" width="3" height="55" fill="#000"/>
<rect x="681" y="331" width="1" height="53" fill="#24b724"/>
<rect x="685" y="315" width="1" height="32" fill="#000"/>
<rect x="684" y="330" width="3" height="1" fill="#000"/>
<rect x="690" y="293" width="1" height="55" fill="#000"/>
<rect x="689" y="317" width="3" height="22" fill="#000"/>
<rect x="690" y="318" width="1" height="20" fill="#24b724"/>
<rect x="694" y="299" width="1" height="24" fill="#000"/>
<rect x="693" y="309" width="3" height="9" fill="#000"/>
<rect x="694" y="310" width="1" height="7" fill="#24b724"/>
<rect x="698" y="291" width="1" height="75" fill="#000"/>
<rect x="697" y="309" width="3" height="29" fill="#000"/>
<rect x="698" y="310" width="1" height="27" fill="#fb0a82"/>
<rect x="703" y="305" width="1" height="43" fill="#000"/>
<rect x="702" y="316" width="3" height="22" fill="#000"/>
<rect x="703" y="317" width="1" height="20" fill="#24b724"/>
<rect x="707" y="274" width="1" height="52" fill="#000"/>
<rect x="706" y="292" width="3" height="25" fill="#000"/>
<rect x="707" y="293" width="1" height="23" fill="#24b724"/>
<rect x="712" y="217" width="1" height="88" fill="#000"/>
<rect x="711" y="253" width="3" height="52" fill="#000"/>
<rect x="712" y="254" width="1" height="50" fill="#24b724"/>
<rect x="716" y="227" width="1" height="58" fill="#000"/>
<rect x="715" y="253" width="3" height="27" fill="#000"/>
<rect x="716" y="254" width="1" height="25" fill="#fb0a82"/>
<rect x="721" y="257" width="1" height="74" fill="#000"/>
<rect x="720" y="279" width="3" height="15" fill="#000"/>
<rect x="721" y="280" width="1" height="13" fill="#fb0a82"/>
<rect x="725" y="220" width="1" height="112" fill="#000"/>
<rect x="724" y="293" width="3" height="8" fill="#000"/>
<rect x="725" y="294" width="1" height="6" fill="#fb0a82"/>
<rect x="729" y="103" width="1" height="201" fill="#000"/>
<rect x="728" y="161" width="3" height="140" fill="#000"/>
<rect x="729" y="162" width="1" height="138" fill="#24b724"/>
<rect x="734" y="49" width="1" height="206" fill="#000"/>
<rect x="733" y="167" width="3" height="13" fill="#000"/>
<rect x="734" y="168" width="1" height="11" fill="#fb0a82"/>
<rect x="738" y="129" width="1" height="130" fill="#000"/>
<rect x="737" y="144" width="3" height="36" fill="#000"/>
<rect x="738" y="145" width="1" height="34" fill="#24b724"/>
<rect x="743" y="72" width="1" height="224" fill="#000"/>
<rect x="742" y="144" width="3" height="117" fill="#000"/>
<rect x="743" y="145" width="1" height="115" fill="#fb0a82"/>
<rect x="747" y="237" width="1" height="88" fill="#000"/>
<rect x="746" y="260" width="3" height="44" fill="#000"/>
<rect x="747" y="261" width="1" height="42" fill="#fb0a82"/>
<rect x="752" y="281" width="1" height="83" fill="#000"/>
<rect x="751" y="303" width="3" height="49" fill="#000"/>
<rect x="752" y="304" width="1" height="47" fill="#fb0a82"/>
<rect x="756" y="329" width="1" height="49" fill="#000"/>
<rect x="755" y="346" width="3" height="10" fill="#000"/>
<rect x="756" y="347" width="1" height="8" fill="#fb0a82"/>
<rect x="760" y="342" width="1" height="72" fill="#000"/>
<rect x="759" y="355" width="3" height="6" fill="#000"/>
<rect x="760" y="356" width="1" height="4" fill="#fb0a82"/>
<rect x="765" y="336" width="1" height="64" fill="#000"/>
<rect x="764" y="360" width="3" height="40" fill="#000"/>
<rect x="765" y="361" width="1" height="38" fill="#fb0a82"/>
<rect x="769" y="357" width="1" height="77" fill="#000"/>
<rect x="768" y="399" width="3" height="33" fill="#000"/>
<rect x="769" y="400" width="1" height="31" fill="#fb0a82"/>
<rect x="774" y="367" width="1" height="68" fill="#000"/>
<rect x="773" y="376" width="3" height="56" fill="#000"/>
<rect x="774" y="377" width="1" height="54" fill="#24b724"/>
<rect x="778" y="364" width="1" height="50" fill="#000"/>
<rect x="777" y="376" width="3" height="28" fill="#000"/>
<rect x="778" y="377" width="1" height="26" fill="#fb0a82"/>
<rect x="783" y="382" width="1" height="32" fill="#000"/>
<rect x="782" y="387" width="3" height="17" fill="#000"/>
<rect x="783" y="388" width="1" height="15" fill="#24b724"/>
<rect x="787" y="385" width="1" height="68" fill="#000"/>
<rect x="786" y="387" width="3" height="18" fill="#000"/>
<rect x="787" y="388" width="1" height="16" fill="#fb0a82"/>
<rect x="791" y="383" width="1" height="42" fill="#000"/>
<rect x="790" y="404" width="3" height="15" fill="#000"/>
<rect x="791" y="405" width="1" height="13" fill="#fb0a82"/>
<rect x="796" y="373" width="1" height="61" fill="#000"/>
<rect x="795" y="394" width="3" height="25" fill="#000"/>
<rect x="796" y="395" width="1" height="23" fill="#24b724"/>
<rect x="800" y="331" width="1" height="83" fill="#000"/>
<rect x="799" y="342" width="3" height="72" fill="#000"/>
<rect x="800" y="343" width="1" height="70" fill="#24b724"/>
<rect x="805" y="292" width="1" height="58" fill="#000"/>
<rect x="804" y="301" width="3" height="42" fill="#000"/>
<rect x="805" y="302" width="1" height="40" fill="#24b724"/>
<rect x="809" y="292" width="1" height="63" fill="#000"/>
<rect x="808" y="301" width="3" height="48" fill="#000"/>
<rect x="809" y="302" width="1" height="46" fill="#fb0a82"/>
<rect x="813" y="321" width="1" height="54" fill="#000"/>
<rect x="812" y="342" width="3" height="7" fill="#000"/>
<rect x="813" y="343" width="1" height="5" fill="#24b724"/>
<rect x="818" y="334" width="1" height="74" fill="#000"/>
<rect x="817" y="342" width="3" height="58" fill="#000"/>
<rect x="818" y="343" width="1" height="56" fill="#fb0a82"/>
<rect x="822" y="389" width="1" height="42" fill="#000"/>
<rect x="821" y="399" width="3" height="11" fill="#000"/>
<rect x="822" y="400" width="1" height="9" fill="#fb0a82"/>
<rect x="827" y="371" width="1" height="52" fill="#000"/>
<rect x="826" y="409" width="3" height="11" fill="#000"/>
<rect x="827" y="410" width="1" height="9" fill="#fb0a82"/>
<rect x="831" y="368" width="1" height="70" fill="#000"/>
<rect x="830" y="378" width="3" height="42" fill="#000"/>
<rect x="831" y="379" width="1" height="40" fill="#24b724"/>
<rect x="836" y="327" width="1" height="62" fill="#000"/>
<rect x="835" y="361" width="3" height="18" fill="#000"/>
<rect x="836" y="362" width="1" height="16" fill="#24b724"/>
<rect x="840" y="314" width="1" height="48" fill="#000"/>
<rect x="839" y="334" width="3" height="28" fill="#000"/>
<rect x="840" y="335" width="1" height="26" fill="#24b724"/>
<rect x="844" y="322" width="1" height="55" fill="#000"/>
<rect x="843" y="334" width="3" height="1" fill="#000"/>
<rect x="849" y="320" width="1" height="63" fill="#000"/>
<rect x="848" y="335" width="3" height="38" fill="#000"/>
<rect x="849" y="336" width="1" height="36" fill="#fb0a82"/>
<rect x="853" y="332" width="1" height="45" fill="#000"/>
<rect x="852" y="339" width="3" height="34" fill="#000"/>
<rect x="853" y="340" width="1" height="32" fill="#24b724"/>
<rect x="858" y="279" width="1" height="77" fill="#000"/>
<rect x="857" y="292" width="3" height="48" fill="#000"/>
<rect x="858" y="293" width="1" height="46" fill="#24b724"/>
<rect x="862" y="267" width="1" height="63" fill="#000"/>
<rect x="861" y="292" width="3" height="18" fill="#000"/>
<rect x="862" y="293" width="1" height="16" fill="#fb0a82"/>
<rect x="867" y="271" width="1" height="57" fill="#000"/>
<rect x="866" y="309" width="3" height="19" fill="#000"/>
<rect x="867" y="310" width="1" height="17" fill="#fb0a82"/>
<rect x="871" y="285" width="1" height="46" fill="#000"/>
<rect x="870" y="304" width="3" height="24" fill="#000"/>
<rect x="871" y="305" width="1" height="22" fill="#24b724"/>
<rect x="875" y="287" width="1" height="33" fill="#000"/>
<rect x="874" y="303" width="3" height="1" fill="#000"/>
<rect x="880" y="245" width="1" height="68" fill="#000"/>
<rect x="879" y="253" width="3" height="51" fill="#000"/>
<rect x="880" y="254" width="1" height="49" fill="#24b724"/>
<rect x="884" y="244" width="1" height="59" fill="#000"/>
<rect x="883" y="253" width="3" height="45" fill="#000"/>
<rect x="884" y="254" width="1" height="43" fill="#fb0a82"/>
<rect x="889" y="292" width="1" height="31" fill="#000"/>
<rect x="888" y="297" width="3" height="1" fill="#000"/>
<rect x="893" y="242" width="1" height="68" fill="#000"/>
<rect x="892" y="269" width="3" height="29" fill="#000"/>
<rect x="893" y="270" width="1" height="27" fill="#24b724"/>
<rect x="897" y="242" width="1" height="72" fill="#000"/>
<rect x="896" y="269" width="3" height="42" fill="#000"/>
<rect x="897" y="270" width="1" height="40" fill="#fb0a82"/>
<rect x="902" y="275" width="1" height="52" fill="#000"/>
<rect x="901" y="303" width="3" height="8" fill="#000"/>
<rect x="902" y="304" width="1" height="6" fill="#24b724"/>
<rect x="906" y="285" width="1" height="36" fill="#000"/>
<rect x="905" y="303" width="3" height="18" fill="#000"/>
<rect x="906" y="304" width="1" height="16" fill="#fb0a82"/>
<rect x="911" y="314" width="1" height="47" fill="#000"/>
<rect x="910" y="319" width="3" height="37" fill="#000"/>
<rect x="911" y="320" width="1" height="35" fill="#fb0a82"/>
<rect x="915" y="305" width="1" height="68" fill="#000"/>
<rect x="914" y="326" width="3" height="30" fill="#000"/>
<rect x="915" y="327" width="1" height="28" fill="#24b724"/>
<rect x="920" y="314" width="1" height="30" fill="#000"/>
<rect x="919" y="326" width="3" height="14" fill="#000"/>
<rect x="920" y="327" width="1" height="12" fill="#fb0a82"/>
<rect x="924" y="335" width="1" height="36" fill="#000"/>
<rect x="923" y="339" width="3" height="2" fill="#000"/>
<rect x="928" y="328" width="1" height="32" fill="#000"/>
<rect x="927" y="341" width="3" height="3" fill="#000"/>
<rect x="928" y="342" width="1" height="1" fill="#fb0a82"/>
<rect x="933" y="333" width="1" height="37" fill="#000"/>
<rect x="932" y="343" width="3" height="23" fill="#000"/>
<rect x="933" y="344" width="1" height="21" fill="#fb0a82"/>
<rect x="937" y="353" width="1" height="46" fill="#000"/>
<rect x="936" y="365" width="3" height="34" fill="#000"/>
<rect x="937" y="366" width="1" height="32" fill="#fb0a82"/>
<rect x="942" y="340" width="1" height="65" fill="#000"/>
<rect x="941" y="345" width="3" height="54" fill="#000"/>
<rect x="942" y="346" width="1" height="52" fill="#24b724"/>
<rect x="946" y="308" width="1" height="56" fill="#000"/>
<rect x="945" y="345" width="3" height="11" fill="#000"/>
<rect x="946" y="346" width="1" height="9" fill="#fb0a82"/>
<rect x="951" y="302" width="1" height="62" fill="#000"/>
<rect x="950" y="318" width="3" height="38" fill="#000"/>
<rect x="951" y="319" width="1" height="36" fill="#24b724"/>
<rect x="955" y="314" width="1" height="61" fill="#000"/>
<rect x="954" y="318" width="3" height="51" fill="#000"/>
<rect x="955" y="319" width="1" height="49" fill="#fb0a82"/>
<rect x="959" y="355" width="1" height="45" fill="#000"/>
<rect x="958" y="368" width="3" height="26" fill="#000"/>
<rect x="959" y="369" width="1" height="24" fill="#fb0a82"/>
<rect x="964" y="385" width="1" height="32" fill="#000"/>
<rect x="963" y="393" width="3" height="20" fill="#000"/>
<rect x="964" y="394" width="1" height="18" fill="#fb0a82"/>
<rect x="968" y="323" width="1" height="99" fill="#000"/>
<rect x="967" y="346" width="3" height="67" fill="#000"/>
<rect x="968" y="347" width="1" height="65" fill="#24b724"/>
<rect x="973" y="309" width="1" height="42" fill="#000"/>
<rect x="972" y="323" width="3" height="24" fill="#000"/>
<rect x="973" y="324" width="1" height="22" fill="#24b724"/>
<rect x="977" y="252" width="1" height="76" fill="#000"/>
<rect x="976" y="291" width="3" height="37" fill="#000"/>
<rect x="977" y="292" width="1" height="35" fill="#24b724"/>
<rect x="982" y="276" width="1" height="50" fill="#000"/>
<rect x="981" y="283" width="3" height="9" fill="#000"/>
<rect x="982" y="284" width="1" height="7" fill="#24b724"/>
<rect x="986" y="275" width="1" height="40" fill="#000"/>
<rect x="985" y="283" width="3" height="11" fill="#000"/>
<rect x="986" y="284" width="1" height="9" fill="#fb0a82"/>
<rect x="990" y="268" width="1" height="31" fill="#000"/>
<rect x="989" y="279" width="3" height="15" fill="#000"/>
<rect x="990" y="280" width="1" height="13" fill="#24b724"/>
<rect x="995" y="275" width="1" height="22" fill="#000"/>
<rect x="994" y="279" width="3" height="10" fill="#000"/>
<rect x="995" y="280" width="1" height="8" fill="#fb0a82"/>
<rect x="999" y="285" width="1" height="45" fill="#000"/>
<rect x="998" y="288" width="3" height="38" fill="#000"/>
<rect x="999" y="289" width="1" height="36" fill="#fb0a82"/>
<rect x="1004" y="302" width="1" height="30" fill="#000"/>
<rect x="1003" y="320" width="3" height="5" fill="#000"/>
<rect x="1004" y="321" width="1" height="3" fill="#24b724"/>
<rect x="1008" y="301" width="1" height="72" fill="#000"/>
<rect x="1007" y="320" width="3" height="53" fill="#000"/>
<rect x="1008" y="321" width="1" height="51" fill="#fb0a82"/>
<rect x="1012" y="313" width="1" height="60" fill="#000"/>
<rect x="1011" y="340" width="3" height="33" fill="#000"/>
<rect x="1012" y="341" width="1" height="31" fill="#24b724"/>
<rect x="1017" y="314" width="1" height="29" fill="#000"/>
<rect x="1016" y="330" width="3" height="11" fill="#000"/>
<rect x="1017" y="331" width="1" height="9" fill="#24b724"/>
<rect x="1021" y="259" width="1" height="72" fill="#000"/>
<rect x="1020" y="270" width="3" height="61" fill="#000"/>
<rect x="1021" y="271" width="1" height="59" fill="#24b724"/>
<rect x="1026" y="267" width="1" height="43" fill="#000"/>
<rect x="1025" y="270" width="3" height="15" fill="#000"/>
<rect x="1026" y="271" width="1" height="13" fill="#fb0a82"/>
<rect x="1030" y="257" width="1" height="43" fill="#000"/>
<rect x="1029" y="284" width="3" height="3" fill="#000"/>
<rect x="1030" y="285" width="1" height="1" fill="#fb0a82"/>
<rect x="1035" y="274" width="1" height="59" fill="#000"/>
<rect x="1034" y="286" width="3" height="47" fill="#000"/>
<rect x="1035" y="287" width="1" height="45" fill="#fb0a82"/>
<rect x="1039" y="313" width="1" height="39" fill="#000"/>
<rect x="1038" y="332" width="3" height="20" fill="#000"/>
<rect x="1039" y="333" width="1" height="18" fill="#fb0a82"/>
<rect x="1043" y="315" width="1" height="37" fill="#000"/>
<rect x="1042" y="333" width="3" height="12" fill="#000"/>
<rect x="1043" y="334" width="1" height="10" fill="#fb0a82"/>
<rect x="1048" y="318" width="1" height="50" fill="#000"/>
<rect x="1047" y="330" width="3" height="15" fill="#000"/>
<rect x="1048" y="331" width="1" height="13" fill="#24b724"/>
<rect x="1052" y="293" width="1" height="54" fill="#000"/>
<rect x="1051" y="310" width="3" height="21" fill="#000"/>
<rect x="1052" y="311" width="1" height="19" fill="#24b724"/>
<rect x="1057" y="276" width="1" height="43" fill="#000"/>
<rect x="1056" y="297" width="3" height="14" fill="#000"/>
<rect x="1057" y="298" width="1" height="12" fill="#24b724"/>
<rect x="1061" y="290" width="1" height="50" fill="#000"/>
<rect x="1060" y="297" width="3" height="41" fill="#000"/>
<rect x="1061" y="298" width="1" height="39" fill="#fb0a82"/>
<rect x="1066" y="297" width="1" height="46" fill="#000"/>
<rect x="1065" y="300" width="3" height="39" fill="#000"/>
<rect x="1066" y="301" width="1" height="37" fill="#24b724"/>
<rect x="1070" y="267" width="1" height="55" fill="#000"/>
<rect x="1069" y="300" width="3" height="17" fill="#000"/>
<rect x="1070" y="301" width="1" height="15" fill="#fb0a82"/>
<rect x="1074" y="311" width="1" height="56" fill="#000"/>
<rect x="1073" y="316" width="3" height="30" fill="#000"/>
<rect x="1074" y="317" width="1" height="28" fill="#fb0a82"/>
<rect x="1079" y="340" width="1" height="37" fill="#000"/>
<rect x="1078" y="345" width="3" height="24" fill="#000"/>
<rect x="1079" y="346" width="1" height="22" fill="#fb0a82"/>
<rect x="1083" y="357" width="1" height="35" fill="#000"/>
<rect x="1082" y="368" width="3" height="22" fill="#000"/>
<rect x="1083" y="369" width="1" height="20" fill="#fb0a82"/>
<rect x="1088" y="342" width="1" height="56" fill="#000"/>
<rect x="1087" y="375" width="3" height="15" fill="#000"/>
<rect x="1088" y="376" width="1" height="13" fill="#24b724"/>
<rect x="1092" y="352" width="1" height="29" fill="#000"/>
<rect x="1091" y="361" width="3" height="15" fill="#000"/>
<rect x="1092" y="362" width="1" height="13" fill="#24b724"/>
<rect x="1097" y="330" width="1" height="40" fill="#000"/>
<rect x="1096" y="352" width="3" height="10" fill="#000"/>
<rect x="1097" y="353" width="1" height="8" fill="#24b724"/>
<rect x="1101" y="344" width="1" height="33" fill="#000"/>
<rect x="1100" y="352" width="3" height="8" fill="#000"/>
<rect x="1101" y="353" width="1" height="6" fill="#fb0a82"/>
<rect x="1105" y="332" width="1" height="36" fill="#000"/>
<rect x="1104" y="357" width="3" height="3" fill="#000"/>
<rect x="1105" y="358" width="1" height="1" fill="#24b724"/>
<rect x="1110" y="329" width="1" height="31" fill="#000"/>
<rect x="1109" y="339" width="3" height="19" fill="#000"/>
<rect x="1110" y="340" width="1" height="17" fill="#24b724"/>
<rect x="1114" y="309" width="1" height="35" fill="#000"/>
<rect x="1113" y="323" width="3" height="17" fill="#000"/>
<rect x="1114" y="324" width="1" height="15" fill="#24b724"/>
<rect x="1119" y="310" width="1" height="38" fill="#000"/>
<rect x="1118" y="323" width="3" height="5" fill="#000"/>
<rect x="1119" y="324" width="1" height="3" fill="#fb0a82"/>
<rect x="1123" y="297" width="1" height="60" fill="#000"/>
<rect x="1122" y="319" width="3" height="9" fill="#000"/>
<rect x="1123" y="320" width="1" height="7" fill="#24b724"/>
<rect x="1127" y="294" width="1" height="31" fill="#000"/>
<rect x="1126" y="306" width="3" height="14" fill="#000"/>
<rect x="1127" y="307" width="1" height="12" fill="#24b724"/>
<rect x="1132" y="278" width="1" height="30" fill="#000"/>
<rect x="1131" y="297" width="3" height="8" fill="#000"/>
<rect x="1132" y="298" width="1" height="6" fill="#24b724"/>
<rect x="1136" y="247" width="1" height="55" fill="#000"/>
<rect x="1135" y="282" width="3" height="16" fill="#000"/>
<rect x="1136" y="283" width="1" height="14" fill="#24b724"/>
<rect x="1141" y="256" width="1" height="38" fill="#000"/>
<rect x="1140" y="259" width="3" height="24" fill="#000"/>
<rect x="1141" y="260" width="1" height="22" fill="#24b724"/>
<rect x="1145" y="203" width="1" height="69" fill="#000"/>
<rect x="1144" y="214" width="3" height="46" fill="#000"/>
<rect x="1145" y="215" width="1" height="44" fill="#24b724"/>
<rect x="1150" y="196" width="1" height="24" fill="#000"/>
<rect x="1149" y="209" width="3" height="6" fill="#000"/>
<rect x="1150" y="210" width="1" height="4" fill="#24b724"/>
<rect x="1154" y="204" width="1" height="35" fill="#000"/>
<rect x="1153" y="209" width="3" height="30" fill="#000"/>
<rect x="1154" y="210" width="1" height="28" fill="#fb0a82"/>
<rect x="1158" y="200" width="1" height="43" fill="#000"/>
<rect x="1157" y="203" width="3" height="36" fill="#000"/>
<rect x="1158" y="204" width="1" height="34" fill="#24b724"/>
<rect x="1163" y="95" width="1" height="119" fill="#000"/>
<rect x="1162" y="135" width="3" height="69" fill="#000"/>
<rect x="1163" y="136" width="1" height="67" fill="#24b724"/>
<rect x="1167" y="120" width="1" height="36" fill="#000"/>
<rect x="1166" y="135" width="3" height="21" fill="#000"/>
<rect x="1167" y="136" width="1" height="19" fill="#fb0a82"/>
<rect x="1172" y="128" width="1" height="30" fill="#000"/>
<rect x="1171" y="152" width="3" height="4" fill="#000"/>
<rect x="1172" y="153" width="1" height="2" fill="#24b724"/>
<rect x="1176" y="146" width="1" height="29" fill="#000"/>
<rect x="1175" y="156" width="3" height="16" fill="#000"/>
<rect x="1176" y="157" width="1" height="14" fill="#fb0a82"/>
<rect x="1181" y="140" width="1" height="33" fill="#000"/>
<rect x="1180" y="171" width="3" height="1" fill="#000"/>
<rect x="1185" y="138" width="1" height="35" fill="#000"/>
<rect x="1184" y="158" width="3" height="15" fill="#000"/>
<rect x="1185" y="159" width="1" height="13" fill="#24b724"/>
<rect x="1189" y="143" width="1" height="41" fill="#000"/>
<rect x="1188" y="158" width="3" height="26" fill="#000"/>
<rect x="1189" y="159" width="1" height="24" fill="#fb0a82"/>
<rect x="1194" y="176" width="1" height="42" fill="#000"/>
<rect x="1193" y="183" width="3" height="22" fill="#000"/>
<rect x="1194" y="184" width="1" height="20" fill="#fb0a82"/>
<rect x="1198" y="177" width="1" height="33" fill="#000"/>
<rect x="1197" y="188" width="3" height="17" fill="#000"/>
<rect x="1198" y="189" width="1" height="15" fill="#24b724"/>
<rect x="1203" y="167" width="1" height="60" fill="#000"/>
<rect x="1202" y="188" width="3" height="35" fill="#000"/>
<rect x="1203" y="189" width="1" height="33" fill="#fb0a82"/>
<rect x="1207" y="202" width="1" height="29" fill="#000"/>
<rect x="1206" y="215" width="3" height="8" fill="#000"/>
<rect x="1207" y="216" width="1" height="6" fill="#24b724"/>
<rect x="1211" y="157" width="1" height="65" fill="#000"/>
<rect x="1210" y="177" width="3" height="39" fill="#000"/>
<rect x="1211" y="178" width="1" height="37" fill="#24b724"/>
<rect x="1216" y="172" width="1" height="34" fill="#000"/>
<rect x="1215" y="177" width="3" height="23" fill="#000"/>
<rect x="1216" y="178" width="1" height="21" fill="#fb0a82"/>
<rect x="1220" y="191" width="1" height="45" fill="#000"/>
<rect x="1219" y="199" width="3" height="37" fill="#000"/>
<rect x="1220" y="200" width="1" height="35" fill="#fb0a82"/>
<rect x="1225" y="221" width="1" height="16" fill="#000"/>
<rect x="1224" y="227" width="3" height="9" fill="#000"/>
<rect x="1225" y="228" width="1" height="7" fill="#24b724"/>
<rect x="1229" y="223" width="1" height="31" fill="#000"/>
<rect x="1228" y="227" width="3" height="15" fill="#000"/>
<rect x="1229" y="228" width="1" height="13" fill="#fb0a82"/>
<rect x="1234" y="225" width="1" height="39" fill="#000"/>
<rect x="1233" y="241" width="3" height="23" fill="#000"/>
<rect x="1234" y="242" width="1" height="21" fill="#fb0a82"/>
<rect x="1238" y="235" width="1" height="32" fill="#000"/>
<rect x="1237" y="248" width="3" height="16" fill="#000"/>
<rect x="1238" y="249" width="1" height="14" fill="#24b724"/>
<rect x="1242" y="241" width="1" height="9" fill="#000"/>
<rect x="1241" y="245" width="3" height="4" fill="#000"/>
<rect x="1242" y="246" width="1" height="2" fill="#24b724"/>
</g>
</g>
<g shape-rendering="crispEdges" fill="#dedee3">
<rect x="1860" y="3" width="1" height="880"/>
<rect x="11" y="852" width="1918" height="1"/>
</g>
<text x="1870.1" y="39.2" font-size="14.3" fill="#131722" stroke="#131722" stroke-width="0.15" textLength="49" lengthAdjust="spacingAndGlyphs">2.34000</text>
<text x="1870.1" y="105.1" font-size="14.3" fill="#131722" stroke="#131722" stroke-width="0.15" textLength="49" lengthAdjust="spacingAndGlyphs">2.32000</text>
<text x="1870.1" y="171.0" font-size="14.3" fill="#131722" stroke="#131722" stroke-width="0.15" textLength="49" lengthAdjust="spacingAndGlyphs">2.30000</text>
<text x="1870.1" y="237.0" font-size="14.3" fill="#131722" stroke="#131722" stroke-width="0.15" textLength="49" lengthAdjust="spacingAndGlyphs">2.28000</text>
<text x="1870.1" y="302.9" font-size="14.3" fill="#131722" stroke="#131722" stroke-width="0.15" textLength="49" lengthAdjust="spacingAndGlyphs">2.26000</text>
<text x="1870.1" y="368.8" font-size="14.3" fill="#131722" stroke="#131722" stroke-width="0.15" textLength="49" lengthAdjust="spacingAndGlyphs">2.24000</text>
<text x="1870.1" y="434.7" font-size="14.3" fill="#131722" stroke="#131722" stroke-width="0.15" textLength="49" lengthAdjust="spacingAndGlyphs">2.22000</text>
<text x="1870.1" y="500.6" font-size="14.3" fill="#131722" stroke="#131722" stroke-width="0.15" textLength="49" lengthAdjust="spacingAndGlyphs">2.20000</text>
<text x="1870.1" y="566.5" font-size="14.3" fill="#131722" stroke="#131722" stroke-width="0.15" textLength="49" lengthAdjust="spacingAndGlyphs">2.18000</text>
<text x="1870.1" y="632.5" font-size="14.3" fill="#131722" stroke="#131722" stroke-width="0.15" textLength="49" lengthAdjust="spacingAndGlyphs">2.16000</text>
<text x="1870.1" y="698.4" font-size="14.3" fill="#131722" stroke="#131722" stroke-width="0.15" textLength="49" lengthAdjust="spacingAndGlyphs">2.14000</text>
<text x="1870.1" y="764.3" font-size="14.3" fill="#131722" stroke="#131722" stroke-width="0.15" textLength="49" lengthAdjust="spacingAndGlyphs">2.12000</text>
<text x="1870.1" y="830.2" font-size="14.3" fill="#131722" stroke="#131722" stroke-width="0.15" textLength="49" lengthAdjust="spacingAndGlyphs">2.10000</text>
<rect x="1800" y="235" width="125" height="21" rx="2" ry="2" fill="#33bb22"/>
<rect x="1860" y="235" width="1" height="21" fill="#7fd672" shape-rendering="crispEdges"/>
<text x="1804.5" y="250.5" font-size="13.6" fill="#fff" stroke="#fff" stroke-width="0.3" textLength="50.3" lengthAdjust="spacingAndGlyphs">GBPNZD</text>
<text x="1870" y="250.5" font-size="14.3" fill="#fff" stroke="#fff" stroke-width="0.3" textLength="49" lengthAdjust="spacingAndGlyphs">2.27602</text>
<text x="46.4" y="872" font-size="14" fill="#131722" stroke="#131722" stroke-width="0.15" textLength="22.2" lengthAdjust="spacingAndGlyphs">Sep</text>
<text x="139.6" y="872" font-size="14" fill="#131722" stroke="#131722" stroke-width="0.15" textLength="21.8" lengthAdjust="spacingAndGlyphs">Oct</text>
<text x="240.9" y="872" font-size="14" fill="#131722" stroke="#131722" stroke-width="0.15" textLength="23.2" lengthAdjust="spacingAndGlyphs">Nov</text>
<text x="333.9" y="872" font-size="14" fill="#131722" stroke="#131722" stroke-width="0.15" textLength="23.2" lengthAdjust="spacingAndGlyphs">Dec</text>
<text x="422.9" y="872" font-size="14" fill="#131722" stroke="#131722" stroke-width="0.15" textLength="31.2" lengthAdjust="spacingAndGlyphs" font-weight="bold">2025</text>
<text x="524.1" y="872" font-size="14" fill="#131722" stroke="#131722" stroke-width="0.15" textLength="22.8" lengthAdjust="spacingAndGlyphs">Feb</text>
<text x="612.1" y="872" font-size="14" fill="#131722" stroke="#131722" stroke-width="0.15" textLength="22.7" lengthAdjust="spacingAndGlyphs">Mar</text>
<text x="705.8" y="872" font-size="14" fill="#131722" stroke="#131722" stroke-width="0.15" textLength="21.5" lengthAdjust="spacingAndGlyphs">Apr</text>
<text x="801.4" y="872" font-size="14" fill="#131722" stroke="#131722" stroke-width="0.15" textLength="24.2" lengthAdjust="spacingAndGlyphs">May</text>
<text x="900.5" y="872" font-size="14" fill="#131722" stroke="#131722" stroke-width="0.15" textLength="22" lengthAdjust="spacingAndGlyphs">Jun</text>
<text x="995.3" y="872" font-size="14" fill="#131722" stroke="#131722" stroke-width="0.15" textLength="18.4" lengthAdjust="spacingAndGlyphs">Jul</text>
<text x="1094.0" y="872" font-size="14" fill="#131722" stroke="#131722" stroke-width="0.15" textLength="22.9" lengthAdjust="spacingAndGlyphs">Aug</text>
<text x="1187.4" y="872" font-size="14" fill="#131722" stroke="#131722" stroke-width="0.15" textLength="22.2" lengthAdjust="spacingAndGlyphs">Sep</text>
<text x="1285.6" y="872" font-size="14" fill="#131722" stroke="#131722" stroke-width="0.15" textLength="21.8" lengthAdjust="spacingAndGlyphs">Oct</text>
<text x="1385.9" y="872" font-size="14" fill="#131722" stroke="#131722" stroke-width="0.15" textLength="23.2" lengthAdjust="spacingAndGlyphs">Nov</text>
<text x="1474.9" y="872" font-size="14" fill="#131722" stroke="#131722" stroke-width="0.15" textLength="23.2" lengthAdjust="spacingAndGlyphs">Dec</text>
<text x="1571.9" y="872" font-size="14" fill="#131722" stroke="#131722" stroke-width="0.15" textLength="31.2" lengthAdjust="spacingAndGlyphs" font-weight="bold">2026</text>
<text x="1674.1" y="872" font-size="14" fill="#131722" stroke="#131722" stroke-width="0.15" textLength="22.8" lengthAdjust="spacingAndGlyphs">Feb</text>
<text x="1762.2" y="872" font-size="14" fill="#131722" stroke="#131722" stroke-width="0.15" textLength="22.7" lengthAdjust="spacingAndGlyphs">Mar</text>
<text x="37.6" y="46.8" font-size="27" fill="#000" stroke="#000" stroke-width="0.3" textLength="196" lengthAdjust="spacingAndGlyphs">GBP/NZD: Daily</text>
<g fill="#101010">
<path d="M12,906 H24 V921 H18 V912.4 H12 Z"/>
<circle cx="29.3" cy="908.8" r="2.9"/>
<path d="M35.4,906 H42 L35.8,921 H29.2 Z"/>
<text x="48.8" y="920.8" font-size="20.5" font-weight="bold" stroke="#101010" stroke-width="0.3" textLength="120.6" lengthAdjust="spacingAndGlyphs">TradingView</text>
</g>
</svg>
</body></html>
